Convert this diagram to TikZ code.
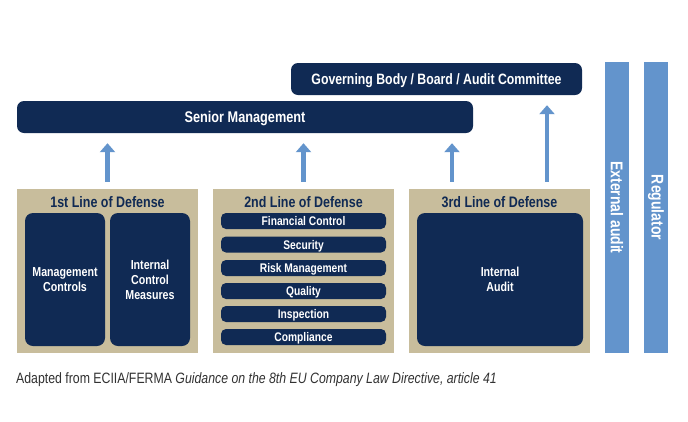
\documentclass[tikz,border=0pt]{standalone}
\usepackage{fontspec}
\setmainfont{Liberation Sans}
\newfontfamily\cond[FakeStretch=0.82]{Liberation Sans}
\usetikzlibrary{arrows.meta}
\definecolor{navy}{RGB}{16,42,84}
\definecolor{beigec}{RGB}{200,189,156}
\definecolor{bluec}{RGB}{99,148,204}
\definecolor{captc}{RGB}{50,50,50}
\begin{document}
\begin{tikzpicture}[x=1pt,y=-1pt,
  navybox/.style={fill=navy, rounded corners=6pt, text=white, inner sep=0pt, align=center, font=\cond\bfseries},
  barbox/.style={navybox, rounded corners=5pt, minimum width=165pt, minimum height=16pt, text depth=0pt, font=\cond\bfseries\fontsize{12.5}{13}\selectfont},
  bigbox/.style={navybox, rounded corners=8pt, minimum height=133pt, font=\cond\bfseries\fontsize{13}{15}\selectfont},
  beigebox/.style={fill=beigec, inner sep=0pt, minimum width=181pt, minimum height=164pt},
  title/.style={text=navy, font=\cond\bfseries\fontsize{15.2}{17}\selectfont, inner sep=0pt},
  bluebar/.style={fill=bluec, inner sep=0pt, minimum width=24pt, minimum height=291pt},
  vlabel/.style={text=white, rotate=-90, font=\cond\bfseries\fontsize{17}{18}\selectfont, inner sep=0pt},
  arr/.style={draw=bluec, line width=4.5pt, -{Triangle[width=15pt,length=9pt]}, shorten >=10pt}
]
\useasboundingbox[fill=white] (0,0) rectangle (688,421);

% top boxes
\node[navybox, rounded corners=7pt, minimum width=291pt, minimum height=32pt, text depth=0pt, font=\cond\bfseries\fontsize{15}{17}\selectfont] (gov) at (436.5,79) {Governing Body / Board / Audit Committee};
\node[navybox, rounded corners=7pt, minimum width=456pt, minimum height=32pt, text depth=0pt, font=\cond\bfseries\fontsize{15.5}{17}\selectfont] (sm) at (245,117) {Senior Management};

% side bars
\node[bluebar] (ext) at (617,207.5) {};
\node[vlabel] (extl) at (ext.center) {External audit};
\node[bluebar] (reg) at (656,207.5) {};
\node[vlabel] (regl) at (reg.center) {Regulator};

% beige boxes
\node[beigebox] (b1) at (107.5,271) {};
\node[beigebox] (b2) at (303.5,271) {};
\node[beigebox] (b3) at (499.5,271) {};
\node[title] (t1) at (107.5,202) {1st Line of Defense};
\node[title] (t2) at (303.5,202) {2nd Line of Defense};
\node[title] (t3) at (499.5,202) {3rd Line of Defense};

% first line
\node[bigbox, minimum width=80pt] (mc) at (65,279.5) {Management\\Controls};
\node[bigbox, minimum width=80pt] (icm) at (150,279.5) {Internal\\Control\\Measures};

% second line
\node[barbox] (fc) at (303.5,221) {Financial Control};
\node[barbox] (sec) at (303.5,244.5) {Security};
\node[barbox] (rm) at (303.5,268) {Risk Management};
\node[barbox] (qu) at (303.5,291) {Quality};
\node[barbox] (ins) at (303.5,314) {Inspection};
\node[barbox] (com) at (303.5,337) {Compliance};

% third line
\node[bigbox, minimum width=166pt] (ia) at (500,279.5) {Internal\\Audit};

% arrows
\draw[arr] ([yshift=7pt]b1.north) -- (b1.north |- sm.south);
\draw[arr] ([yshift=7pt]b2.north) -- (b2.north |- sm.south);
\draw[arr] ([xshift=-47.5pt,yshift=7pt]b3.north) -- ([xshift=-47.5pt]b3.north |- sm.south);
\draw[arr] ([xshift=47.5pt,yshift=7pt]b3.north) -- ([xshift=47.5pt]b3.north |- gov.south);

% caption
\node[anchor=west, inner sep=0pt, text=captc, font=\cond\fontsize{15}{17}\selectfont] (cap) at (16,380) {Adapted from ECIIA/FERMA \textit{Guidance on the 8th EU Company Law Directive, article 41}};
\end{tikzpicture}
\end{document}
